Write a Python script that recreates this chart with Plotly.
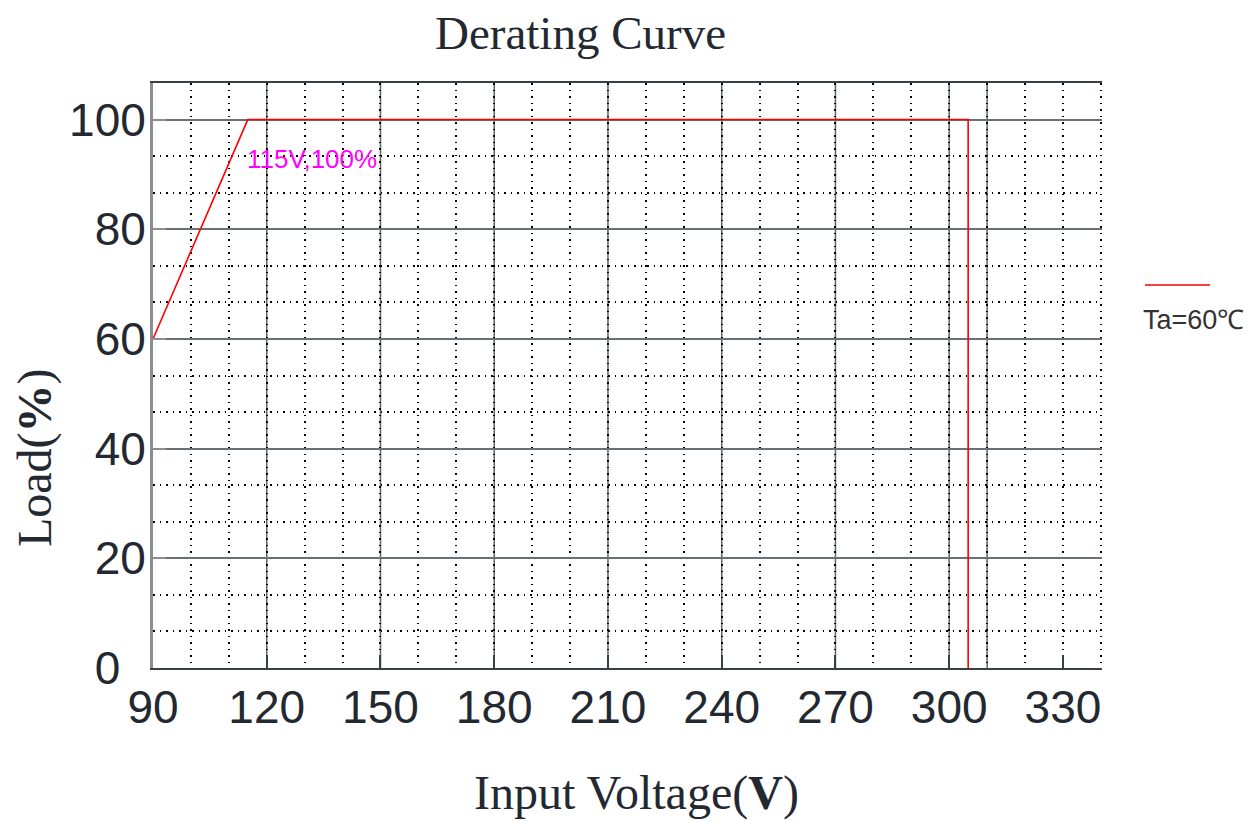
import plotly.graph_objects as go

# ---- data ----
voltage = [90, 115, 305, 305]
load = [60, 100, 100, 0]
series_name = "Ta=60℃"
x_ticks = [90, 120, 150, 180, 210, 240, 270, 300, 330]
y_ticks = [0, 20, 40, 60, 80, 100]
major_vlines = [120, 150, 180, 210, 240, 270, 300, 310]
point_label = "115V,100%"
point_x, point_y = 115, 100

TICK_FONT = "Liberation Sans, Arial, sans-serif"
SERIF = "Liberation Serif, Times New Roman, serif"
DARK = "#232831"

# page body has ~8px margin: figure is offset by it
OFF = 8
L, R, T, B = 153 - OFF, 158, 83 - OFF, 153
W, H = 1260 - OFF, 821 - OFF
PW, PH = W - L - R, H - T - B


def px_x(x):  # reference pixel -> paper
    return (x - OFF - L) / PW


def px_y(y):
    return (H - B - (y - OFF)) / PH


fig = go.Figure()
fig.add_trace(go.Scatter(x=voltage, y=load, mode="lines", name=series_name,
                         line=dict(color="#ff0000", width=1.6), showlegend=False))

for v in major_vlines:
    fig.add_shape(type="line", xref="x", yref="paper", x0=v, x1=v, y0=0, y1=1,
                  line=dict(color="#5f646b", width=1.5), layer="between")

fig.add_annotation(x=point_x, y=point_y, xref="x", yref="y", text=point_label,
                   showarrow=False, xanchor="left", yanchor="top", xshift=-3, yshift=-22,
                   font=dict(family=TICK_FONT, size=26, color="#ff00ff"))

# legend (stacked line over text)
fig.add_shape(type="line", xref="paper", yref="paper",
              x0=px_x(1145), x1=px_x(1210), y0=px_y(285), y1=px_y(285),
              line=dict(color="#ff0000", width=1.5))
fig.add_annotation(xref="paper", yref="paper", x=px_x(1141), y=px_y(320),
                   text=series_name, showarrow=False, xanchor="left", yanchor="middle",
                   font=dict(family=TICK_FONT, size=27, color="#333333"))

# title & axis titles
fig.add_annotation(xref="paper", yref="paper", x=px_x(580), y=px_y(33),
                   text="Derating Curve", showarrow=False, xanchor="center", yanchor="middle",
                   font=dict(family=SERIF, size=47, color=DARK))
fig.add_annotation(xref="paper", yref="paper", x=px_x(636), y=px_y(793),
                   text="Input Voltage(<b>V</b>)", showarrow=False, xanchor="center", yanchor="middle",
                   font=dict(family=SERIF, size=48, color=DARK))
fig.add_annotation(xref="paper", yref="paper", x=px_x(35), y=px_y(458),
                   text="Load(<b>%</b>)", showarrow=False, textangle=-90,
                   xanchor="center", yanchor="middle",
                   font=dict(family=SERIF, size=48, color=DARK))

fig.update_layout(
    width=W, height=H,
    margin=dict(l=L, r=R, t=T, b=B),
    paper_bgcolor="white", plot_bgcolor="white",
    showlegend=False,
)
fig.update_xaxes(
    range=[90, 340.3], tickmode="array", tickvals=x_ticks,
    ticktext=[str(v) for v in x_ticks],
    tickfont=dict(family=TICK_FONT, size=46, color=DARK),
    ticks="inside", ticklen=13, tickwidth=2, tickcolor="#3a3f45",
    ticklabelstandoff=-2,
    showline=True, linecolor="#3a3f45", linewidth=2, mirror=True,
    showgrid=True, gridcolor="black", gridwidth=1.5, griddash="1.5px,5px",
    minor=dict(dtick=10, tick0=90, showgrid=True, gridcolor="black", gridwidth=1.5,
               griddash="1.5px,5px"),
    zeroline=False,
)
fig.update_yaxes(
    range=[0, 320 / 3], tickmode="array", tickvals=y_ticks,
    ticktext=[str(v) + ("\u00a0\u00a0" if v == 0 else "") for v in y_ticks],
    tickfont=dict(family=TICK_FONT, size=46, color=DARK),
    ticks="inside", ticklen=13, tickwidth=2, tickcolor="#8a8d92",
    ticklabelstandoff=-5,
    showline=True, linecolor="#8a8d92", linewidth=3,
    showgrid=True, gridcolor="#6a6f75", gridwidth=1.5,
    minor=dict(dtick=20 / 3, tick0=0, showgrid=True, gridcolor="black", gridwidth=1.5,
               griddash="1.5px,5px"),
    zeroline=False,
)

fig.write_html("out.html")
